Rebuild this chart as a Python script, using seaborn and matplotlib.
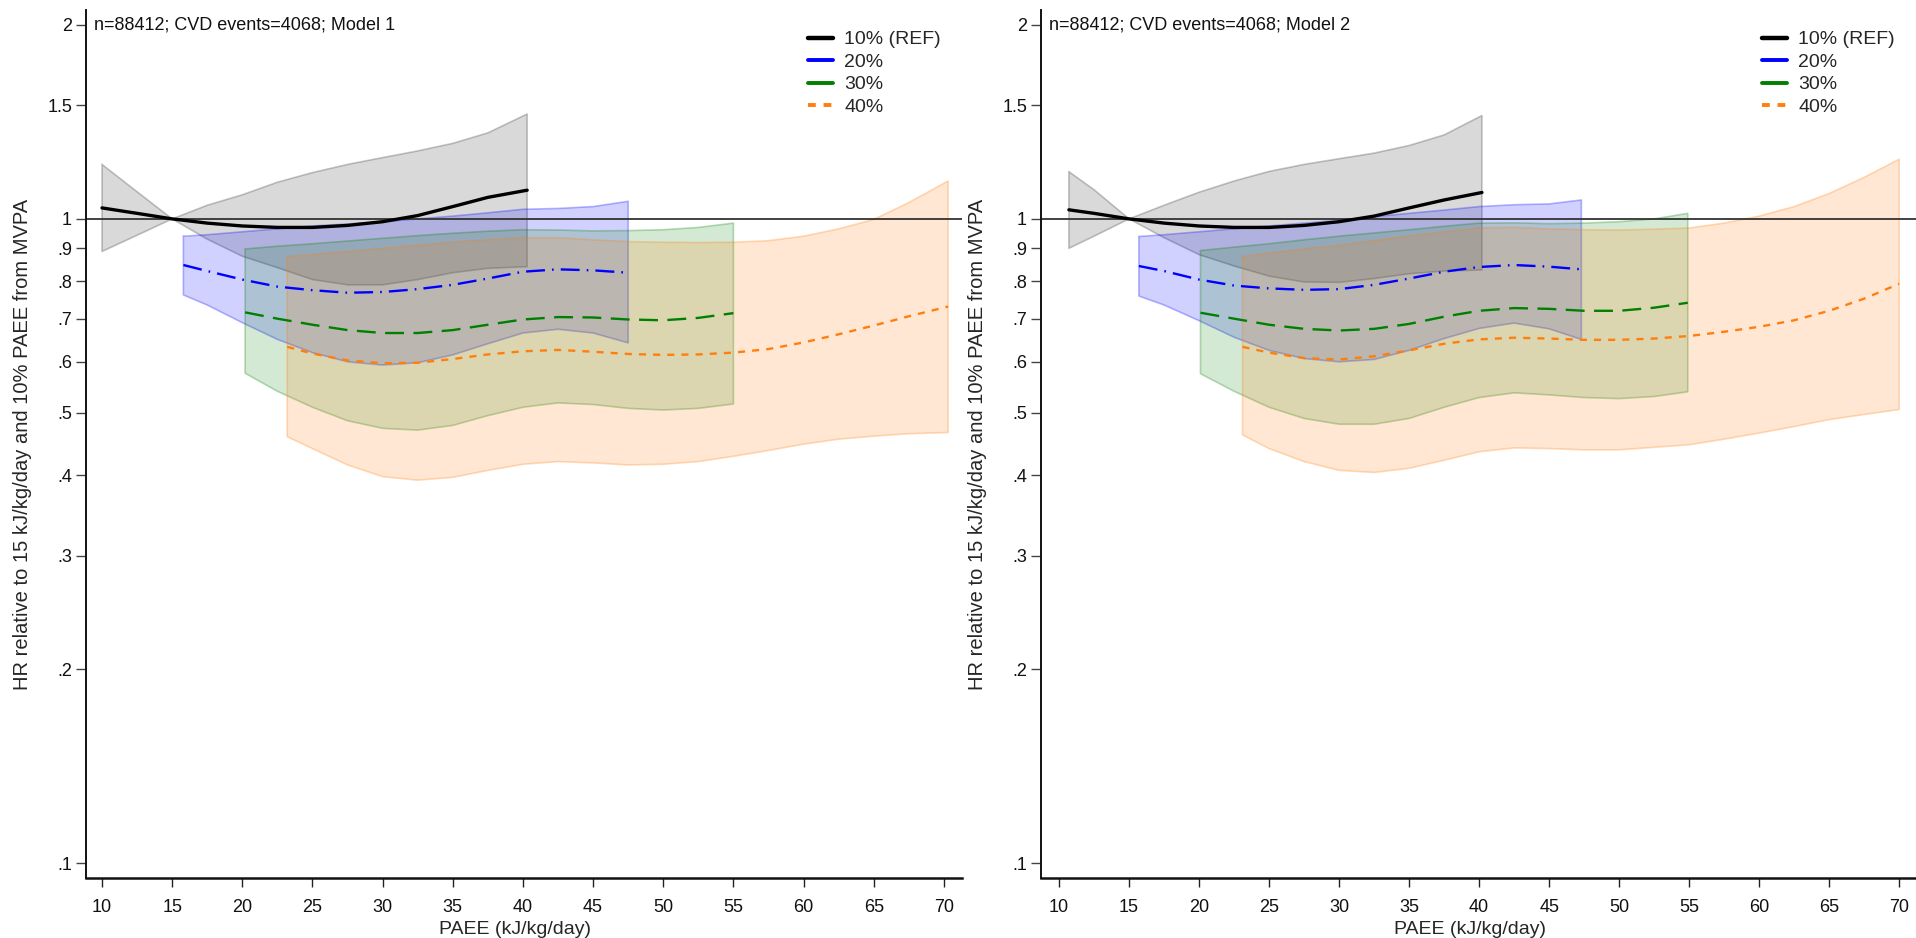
import numpy as np
import pandas as pd
import matplotlib
matplotlib.use("Agg")
import matplotlib.pyplot as plt
from matplotlib.lines import Line2D
from matplotlib.ticker import FixedLocator, FixedFormatter, NullLocator
import seaborn as sns

# ---------------- data ----------------
# Model 1
m1_x10 = [10, 12.5, 15, 17.5, 20, 22.5, 25, 27.5, 30, 32.5, 35, 37.5, 40.3]
m1_hr10 = [1.04, 1.02, 1.00, 0.985, 0.975, 0.97, 0.97, 0.977, 0.99, 1.012, 1.045, 1.08, 1.108]
m1_lo10 = [0.89, 0.943, 1.00, 0.93, 0.875, 0.84, 0.805, 0.79, 0.79, 0.805, 0.825, 0.838, 0.843]
m1_hi10 = [1.215, 1.102, 1.00, 1.05, 1.09, 1.14, 1.18, 1.215, 1.245, 1.275, 1.31, 1.36, 1.455]

m1_x20 = [15.8, 17.5, 20, 22.5, 25, 27.5, 30, 32.5, 35, 37.5, 40, 42.5, 45, 47.5]
m1_hr20 = [0.848, 0.83, 0.805, 0.785, 0.775, 0.768, 0.77, 0.778, 0.79, 0.808, 0.828, 0.835, 0.832, 0.825]
m1_lo20 = [0.762, 0.735, 0.69, 0.65, 0.62, 0.60, 0.593, 0.598, 0.615, 0.64, 0.665, 0.674, 0.665, 0.642]
m1_hi20 = [0.94, 0.945, 0.955, 0.965, 0.975, 0.982, 0.99, 1.0, 1.01, 1.022, 1.035, 1.038, 1.045, 1.065]

m1_x30 = [20.2, 22.5, 25, 27.5, 30, 32.5, 35, 37.5, 40, 42.5, 45, 47.5, 50, 52.5, 55]
m1_hr30 = [0.716, 0.70, 0.685, 0.672, 0.665, 0.665, 0.672, 0.685, 0.698, 0.704, 0.703, 0.698, 0.696, 0.702, 0.714]
m1_lo30 = [0.576, 0.54, 0.51, 0.486, 0.473, 0.47, 0.478, 0.495, 0.51, 0.518, 0.515, 0.508, 0.505, 0.508, 0.516]
m1_hi30 = [0.898, 0.907, 0.915, 0.924, 0.933, 0.942, 0.95, 0.957, 0.962, 0.961, 0.958, 0.959, 0.962, 0.97, 0.985]

m1_x40 = [23.2, 25, 27.5, 30, 32.5, 35, 37.5, 40, 42.5, 45, 47.5, 50, 52.5, 55, 57.5, 60, 62.5, 65, 67.5, 70.3]
m1_hr40 = [0.633, 0.618, 0.603, 0.597, 0.598, 0.606, 0.616, 0.623, 0.626, 0.622, 0.617, 0.615, 0.616, 0.62, 0.628, 0.643, 0.662, 0.683, 0.706, 0.731]
m1_lo40 = [0.459, 0.44, 0.415, 0.398, 0.393, 0.397, 0.407, 0.416, 0.42, 0.418, 0.415, 0.416, 0.42, 0.428, 0.437, 0.447, 0.455, 0.46, 0.464, 0.466]
m1_hi40 = [0.874, 0.88, 0.89, 0.90, 0.91, 0.92, 0.928, 0.935, 0.935, 0.928, 0.922, 0.92, 0.919, 0.92, 0.925, 0.94, 0.965, 0.998, 1.06, 1.145]

# Model 2
m2_x10 = [10.7, 12.5, 15, 17.5, 20, 22.5, 25, 27.5, 30, 32.5, 35, 37.5, 40.2]
m2_hr10 = [1.033, 1.02, 1.00, 0.985, 0.975, 0.97, 0.97, 0.977, 0.99, 1.01, 1.04, 1.07, 1.099]
m2_lo10 = [0.90, 0.94, 1.00, 0.935, 0.88, 0.845, 0.815, 0.798, 0.797, 0.808, 0.822, 0.83, 0.833]
m2_hi10 = [1.184, 1.11, 1.00, 1.05, 1.10, 1.145, 1.185, 1.215, 1.24, 1.265, 1.30, 1.35, 1.447]

m2_x20 = [15.7, 17.5, 20, 22.5, 25, 27.5, 30, 32.5, 35, 37.5, 40, 42.5, 45, 47.3]
m2_hr20 = [0.845, 0.83, 0.805, 0.788, 0.78, 0.776, 0.778, 0.79, 0.808, 0.828, 0.842, 0.848, 0.843, 0.835]
m2_lo20 = [0.759, 0.735, 0.695, 0.655, 0.625, 0.607, 0.60, 0.605, 0.625, 0.652, 0.676, 0.689, 0.675, 0.65]
m2_hi20 = [0.939, 0.945, 0.955, 0.965, 0.975, 0.985, 0.995, 1.008, 1.02, 1.032, 1.045, 1.052, 1.055, 1.07]

m2_x30 = [20.1, 22.5, 25, 27.5, 30, 32.5, 35, 37.5, 40, 42.5, 45, 47.5, 50, 52.5, 54.9]
m2_hr30 = [0.715, 0.70, 0.685, 0.675, 0.671, 0.675, 0.687, 0.705, 0.72, 0.727, 0.725, 0.72, 0.72, 0.728, 0.741]
m2_lo30 = [0.575, 0.54, 0.51, 0.49, 0.48, 0.48, 0.49, 0.51, 0.528, 0.537, 0.533, 0.528, 0.526, 0.53, 0.539]
m2_hi30 = [0.893, 0.904, 0.915, 0.928, 0.94, 0.951, 0.962, 0.974, 0.985, 0.986, 0.983, 0.985, 0.99, 1.0, 1.02]

m2_x40 = [23.1, 25, 27.5, 30, 32.5, 35, 37.5, 40, 42.5, 45, 47.5, 50, 52.5, 55, 57.5, 60, 62.5, 65, 67.5, 70]
m2_hr40 = [0.633, 0.62, 0.608, 0.605, 0.612, 0.625, 0.64, 0.65, 0.654, 0.652, 0.649, 0.649, 0.652, 0.658, 0.668, 0.68, 0.696, 0.72, 0.752, 0.793]
m2_lo40 = [0.462, 0.44, 0.42, 0.407, 0.404, 0.41, 0.422, 0.435, 0.441, 0.44, 0.438, 0.438, 0.442, 0.446, 0.455, 0.465, 0.476, 0.488, 0.497, 0.506]
m2_hi40 = [0.874, 0.885, 0.898, 0.91, 0.925, 0.94, 0.955, 0.968, 0.97, 0.965, 0.962, 0.961, 0.964, 0.968, 0.985, 1.01, 1.045, 1.095, 1.16, 1.238]

series_labels = ["10% (REF)", "20%", "30%", "40%"]
panel_titles = ["n=88412; CVD events=4068; Model 1", "n=88412; CVD events=4068; Model 2"]
x_ticks = [10, 15, 20, 25, 30, 35, 40, 45, 50, 55, 60, 65, 70]
y_ticks = [0.1, 0.2, 0.3, 0.4, 0.5, 0.6, 0.7, 0.8, 0.9, 1, 1.5, 2]
y_tick_labels = [".1", ".2", ".3", ".4", ".5", ".6", ".7", ".8", ".9", "1", "1.5", "2"]
x_label = "PAEE (kJ/kg/day)"
y_label = "HR relative to 15 kJ/kg/day and 10% PAEE from MVPA"

# ---------------- styling ----------------
sns.set_style("ticks")
plt.rcParams["font.family"] = ["Liberation Sans", "DejaVu Sans"]

line_colors = ["#000000", "#0000ff", "#008000", "#ff7f0e"]
fill_alpha = [0.15, 0.18, 0.17, 0.18]
edge_alpha = [0.22, 0.28, 0.28, 0.28]
line_widths = [2.4, 1.7, 1.7, 1.7]
line_styles = ["-", (0, (8, 3, 0.7, 3)), (0, (8, 4)), (0, (3, 3))]

models = [
    [(m1_x10, m1_hr10, m1_lo10, m1_hi10), (m1_x20, m1_hr20, m1_lo20, m1_hi20),
     (m1_x30, m1_hr30, m1_lo30, m1_hi30), (m1_x40, m1_hr40, m1_lo40, m1_hi40)],
    [(m2_x10, m2_hr10, m2_lo10, m2_hi10), (m2_x20, m2_hr20, m2_lo20, m2_hi20),
     (m2_x30, m2_hr30, m2_lo30, m2_hi30), (m2_x40, m2_hr40, m2_lo40, m2_hi40)],
]

W, H = 1916, 938
fig = plt.figure(figsize=(W / 100, H / 100), dpi=100)
fig.patch.set_facecolor("white")

axes_px = [(86, 962, (8.86, 71.29)), (1041, 1916, (8.71, 71.2))]
top_px, bottom_px = 10, 878

for p, (left, right, xl) in enumerate(axes_px):
    ax = fig.add_axes([left / W, (H - bottom_px) / H, (right - left) / W, (bottom_px - top_px) / H])
    ax.set_facecolor("white")
    ax.set_yscale("log")

    series = models[p]
    # CI bands
    for i, (xs, hr, lo, hi) in enumerate(series):
        ax.fill_between(xs, lo, hi, facecolor=line_colors[i], alpha=fill_alpha[i],
                        edgecolor="none", zorder=1 + i * 0.1)
        ax.plot(xs + xs[::-1] + [xs[0]], hi + lo[::-1] + [hi[0]], color=line_colors[i],
                alpha=edge_alpha[i], lw=1.2, zorder=1.05 + i * 0.1, solid_joinstyle="round")

    ax.axhline(1, color="#333333", lw=1.3, zorder=2)

    # estimate lines through seaborn
    for i, (xs, hr, lo, hi) in enumerate(series):
        df = pd.DataFrame({"PAEE": xs, "HR": hr})
        sns.lineplot(data=df, x="PAEE", y="HR", ax=ax, color=line_colors[i],
                     linewidth=line_widths[i], linestyle=line_styles[i],
                     estimator=None, errorbar=None, legend=False, zorder=3 + i * 0.1)

    ax.set_xlim(*xl)
    ax.set_ylim(0.0948, 2.11)
    ax.xaxis.set_major_locator(FixedLocator(x_ticks))
    ax.yaxis.set_major_locator(FixedLocator(y_ticks))
    ax.yaxis.set_major_formatter(FixedFormatter(y_tick_labels))
    ax.yaxis.set_minor_locator(NullLocator())
    ax.xaxis.set_minor_locator(NullLocator())

    for s in ["top", "right"]:
        ax.spines[s].set_visible(False)
    ax.spines["left"].set_linewidth(1.4)
    ax.spines["bottom"].set_linewidth(1.8)
    ax.spines["left"].set_color("#111111")
    ax.spines["bottom"].set_color("#111111")

    ax.tick_params(axis="x", length=6.5, width=1.0, color="#222222", pad=8.5, labelsize=13,
                   labelcolor="#111111")
    ax.tick_params(axis="y", length=7, width=1.0, color="#444444", pad=3, labelsize=13,
                   labelcolor="#111111")

    ax.set_xlabel(x_label, fontsize=14)
    ax.xaxis.set_label_coords(0.49, -0.049)
    ax.xaxis.label.set_va("top")
    ax.set_ylabel(y_label, fontsize=14.5)
    ax.yaxis.set_label_coords(-0.062, 0.5)

    ax.text(0.009, 0.983, panel_titles[p], transform=ax.transAxes, ha="left", va="center",
            fontsize=13, color="#111111")

    handles = [Line2D([0], [0], color=line_colors[i], lw=(3.2 if i == 0 else 2.8),
                      linestyle=("-" if i < 3 else (0, (2, 2))))
               for i in range(4)]
    leg = ax.legend(handles, series_labels, loc="upper right", bbox_to_anchor=(0.985, 0.985),
                    frameon=False, fontsize=14, handlelength=1.3, handletextpad=0.6,
                    labelspacing=0.25, borderaxespad=0.0)

fig.savefig("out.png", dpi=100, facecolor="white")
